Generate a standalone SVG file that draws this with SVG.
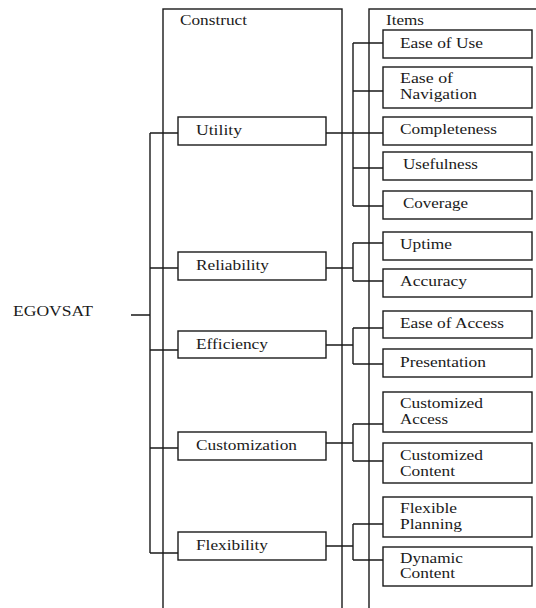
<svg xmlns="http://www.w3.org/2000/svg" width="536" height="608" viewBox="0 0 536 608">
<style>
.frame{fill:none;stroke:#1a1a1a;stroke-width:1.4}
.box{fill:#fff;stroke:#1a1a1a;stroke-width:1.4}
.conn path{fill:none;stroke:#1a1a1a;stroke-width:1.4}
text{font-family:"Liberation Serif","Times New Roman",serif;font-size:14px;fill:#1a1a1a}
</style>
<rect width="536" height="608" fill="#fff"/>
<g id="frames">
<rect class="frame" x="163" y="9" width="179" height="640"/>
<rect class="frame" x="369" y="9" width="200" height="640"/>
<text x="180" y="25" textLength="67" lengthAdjust="spacingAndGlyphs">Construct</text>
<text x="386" y="25" textLength="38" lengthAdjust="spacingAndGlyphs">Items</text>
</g>
<g class="conn" id="connectors">
<path d="M131,315H150M150,133V553M150,133H178M150,268H178M150,350H178M150,448H178M150,553H178"/>
<path d="M326,133H353M353,43V206M353,43H383M353,91H383M353,133H383M353,168H383M353,206H383"/>
<path d="M326,268H353M353,243V281M353,243H383M353,281H383"/>
<path d="M326,345H353M353,328V364M353,328H383M353,364H383"/>
<path d="M326,443H353M353,424V461M353,424H383M353,461H383"/>
<path d="M326,546H353M353,524V560M353,524H383M353,560H383"/>
</g>
<g id="egovsat"><text x="13" y="316" textLength="80" lengthAdjust="spacingAndGlyphs">EGOVSAT</text></g>
<g id="utility"><rect class="box" x="178" y="117" width="148" height="28"/><text x="196" y="135" textLength="46" lengthAdjust="spacingAndGlyphs">Utility</text></g>
<g id="reliability"><rect class="box" x="178" y="252" width="148" height="28"/><text x="196" y="270" textLength="73" lengthAdjust="spacingAndGlyphs">Reliability</text></g>
<g id="efficiency"><rect class="box" x="178" y="331" width="148" height="27"/><text x="196" y="349" textLength="72" lengthAdjust="spacingAndGlyphs">Efficiency</text></g>
<g id="customization"><rect class="box" x="178" y="432" width="148" height="28"/><text x="196" y="450" textLength="101" lengthAdjust="spacingAndGlyphs">Customization</text></g>
<g id="flexibility"><rect class="box" x="178" y="532" width="148" height="28"/><text x="196" y="550" textLength="72" lengthAdjust="spacingAndGlyphs">Flexibility</text></g>
<g id="ease-of-use"><rect class="box" x="383" y="30" width="149" height="28"/><text x="400" y="48" textLength="83" lengthAdjust="spacingAndGlyphs">Ease of Use</text></g>
<g id="ease-of-navigation"><rect class="box" x="383" y="67" width="149" height="41"/><text x="400" y="83" textLength="53" lengthAdjust="spacingAndGlyphs">Ease of</text><text x="400" y="99" textLength="77" lengthAdjust="spacingAndGlyphs">Navigation</text></g>
<g id="completeness"><rect class="box" x="383" y="117" width="149" height="28"/><text x="400" y="134" textLength="97" lengthAdjust="spacingAndGlyphs">Completeness</text></g>
<g id="usefulness"><rect class="box" x="383" y="152" width="149" height="28"/><text x="403" y="169" textLength="75" lengthAdjust="spacingAndGlyphs">Usefulness</text></g>
<g id="coverage"><rect class="box" x="383" y="191" width="149" height="28"/><text x="403" y="208" textLength="65" lengthAdjust="spacingAndGlyphs">Coverage</text></g>
<g id="uptime"><rect class="box" x="383" y="232" width="149" height="28"/><text x="400" y="249" textLength="52" lengthAdjust="spacingAndGlyphs">Uptime</text></g>
<g id="accuracy"><rect class="box" x="383" y="269" width="149" height="28"/><text x="400" y="286" textLength="67" lengthAdjust="spacingAndGlyphs">Accuracy</text></g>
<g id="ease-of-access"><rect class="box" x="383" y="311" width="149" height="27"/><text x="400" y="328" textLength="104" lengthAdjust="spacingAndGlyphs">Ease of Access</text></g>
<g id="presentation"><rect class="box" x="383" y="349" width="149" height="28"/><text x="400" y="367" textLength="86" lengthAdjust="spacingAndGlyphs">Presentation</text></g>
<g id="customized-access"><rect class="box" x="383" y="392" width="149" height="40"/><text x="400" y="408" textLength="83" lengthAdjust="spacingAndGlyphs">Customized</text><text x="400" y="424" textLength="48" lengthAdjust="spacingAndGlyphs">Access</text></g>
<g id="customized-content"><rect class="box" x="383" y="443" width="149" height="40"/><text x="400" y="460" textLength="83" lengthAdjust="spacingAndGlyphs">Customized</text><text x="400" y="476" textLength="55" lengthAdjust="spacingAndGlyphs">Content</text></g>
<g id="flexible-planning"><rect class="box" x="383" y="497" width="149" height="40"/><text x="400" y="513" textLength="57" lengthAdjust="spacingAndGlyphs">Flexible</text><text x="400" y="529" textLength="62" lengthAdjust="spacingAndGlyphs">Planning</text></g>
<g id="dynamic-content"><rect class="box" x="383" y="547" width="149" height="39"/><text x="400" y="563" textLength="63" lengthAdjust="spacingAndGlyphs">Dynamic</text><text x="400" y="578" textLength="55" lengthAdjust="spacingAndGlyphs">Content</text></g>
</svg>
